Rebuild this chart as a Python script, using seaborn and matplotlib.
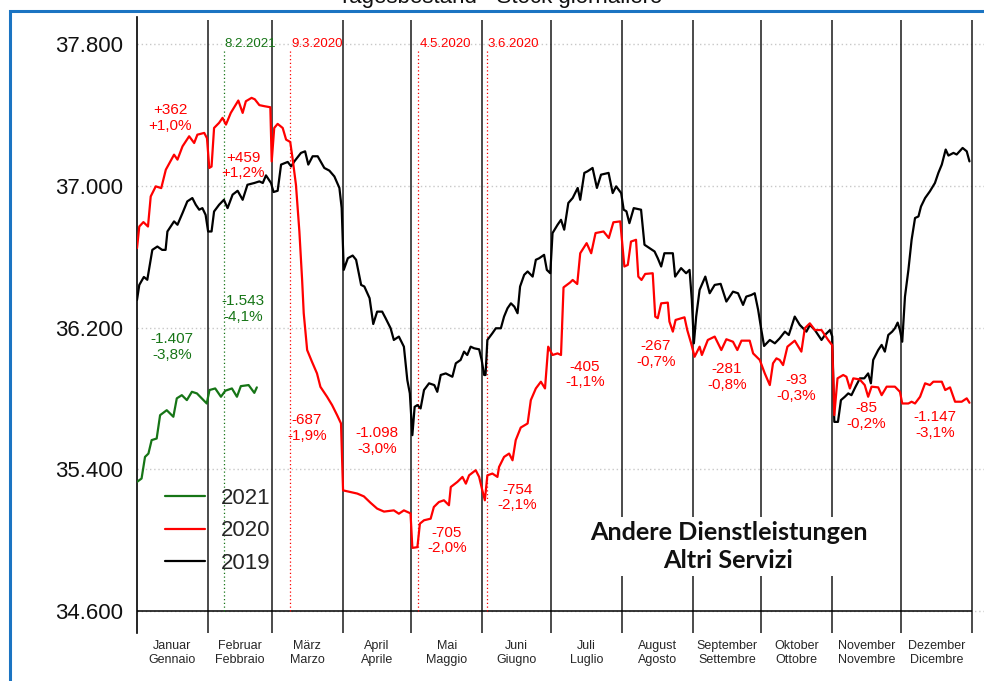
import matplotlib
matplotlib.use("Agg")
import matplotlib.pyplot as plt
from matplotlib.patches import Rectangle
from matplotlib.lines import Line2D
import seaborn as sns
import pandas as pd

# ---------------- data (day of year, 0 = 1 January) ----------------
days_2019 = [0, 1, 3, 4.5, 6.7, 8.9, 11, 12.5, 13.3, 16.2, 17.7, 19.9, 22, 24.2, 25.7, 27.2, 28.6, 30,
             31.1, 32.6, 33.7, 35.9, 38, 39.6, 41.8, 44, 46.2, 48.3, 51.3, 53.5, 55, 56.4, 58.6, 59.7,
             61.5, 63, 65.9, 67.4, 68.8, 71.7, 73.5, 74.9, 76.8, 79, 81.9, 84.1, 86.3, 88.5, 89.5, 90.4,
             92.2, 94.3, 95.8, 98, 99.4, 101.7, 103.3, 105, 107.2, 108.7, 110.9, 112.3, 114.5, 116.7,
             118.2, 119.3, 120.4, 121.4, 122.6, 124, 125.5, 127.7, 130, 131.3, 132.8, 135, 137.9, 139.4,
             141.5, 143, 144.4, 145.9, 147.4, 149.6, 150.7, 151.8, 152.4, 153.2, 155.4, 156.9, 159.1,
             160.5, 162, 163.5, 165, 166.4, 167.5, 169.3, 170.8, 173, 174.4, 175.9, 178, 179.2, 180.7,
             181.7, 183.9, 185.4, 186.8, 188.6, 190.5, 192.7, 193.8, 195.6, 197, 199.2, 201.1, 202.9,
             206.2, 208, 209.5, 211.7, 212.8, 214, 215.3, 217.2, 220.4, 221.9, 224.1, 226.3, 227.7,
             229.2, 230.6, 234.3, 235.3, 237.9, 240.1, 241.6, 242.6, 243.5, 244.5, 246, 248.5, 250.4,
             252.6, 255.2, 257.7, 260.6, 262.8, 265, 266.4, 268.6, 270.1, 271.6, 273, 274.2, 276.7,
             278.9, 281, 283.3, 285, 287.6, 289.8, 292.7, 294.2, 296.4, 299.3, 300.8, 303, 304, 304.9,
             306.5, 307.8, 309.5, 311, 312.4, 314.2, 316.1, 318, 319.7, 320.9, 321.9, 324.1, 325.6, 327,
             328.5, 330.2, 331.4, 332.6, 333.6, 334.6, 335.8, 337.3, 338.7, 340.2, 341.7, 342.8, 344.6,
             346.7, 348.9, 350.4, 351.9, 353.6, 354.8, 357, 358.4, 361, 362.8, 364]
stock_2019 = [36356, 36441, 36486, 36470, 36639, 36658, 36639, 36639, 36743, 36800, 36781, 36847, 36913,
              36932, 36894, 36866, 36875, 36837, 36743, 36743, 36856, 36894, 36922, 36875, 36951, 36973,
              36922, 37007, 37017, 37026, 37017, 37060, 37017, 36966, 36973, 37121, 37136, 37111, 37139,
              37187, 37196, 37121, 37168, 37168, 37102, 37087, 37054, 36989, 36875, 36526, 36592, 36607,
              36583, 36441, 36432, 36366, 36220, 36290, 36290, 36253, 36196, 36130, 36149, 36092, 35903,
              35828, 35592, 35752, 35762, 35743, 35847, 35885, 35875, 35837, 35932, 35941, 35922, 35998,
              36017, 36064, 36045, 36092, 36083, 36077, 36017, 35932, 35932, 36130, 36168, 36196, 36196,
              36262, 36309, 36337, 36318, 36281, 36432, 36498, 36517, 36488, 36583, 36592, 36611, 36526,
              36507, 36734, 36781, 36809, 36753, 36904, 36932, 36989, 36922, 37074, 37083, 37102, 36989,
              37064, 37074, 36960, 36998, 36960, 36866, 36857, 36790, 36875, 36866, 36668, 36649, 36630,
              36592, 36545, 36620, 36620, 36488, 36536, 36507, 36526, 36356, 36111, 36262, 36413, 36488,
              36394, 36441, 36447, 36347, 36403, 36394, 36328, 36375, 36384, 36394, 36300, 36186, 36096,
              36130, 36111, 36139, 36177, 36158, 36262, 36215, 36177, 36215, 36186, 36130, 36158, 36186,
              36150, 35667, 35667, 35790, 35809, 35828, 35818, 35866, 35913, 35913, 35941, 35885, 36017,
              36073, 36102, 36064, 36158, 36177, 36196, 36228, 36186, 36120, 36375, 36526, 36696, 36819,
              36828, 36884, 36932, 36970, 37017, 37074, 37121, 37206, 37172, 37187, 37178, 37215, 37196,
              37139]

days_2020 = [0, 1, 2.8, 4.8, 6, 8.2, 10.6, 12.6, 16.2, 17.7, 19.9, 22.8, 25, 26.4, 29.4, 30.6, 31.6,
             32.6, 33.7, 35.9, 37.4, 38.9, 41, 42.8, 44.3, 46.2, 47.6, 50.1, 51.5, 53.5, 55.7, 58.3,
             58.9, 60, 61.5, 63.7, 65.2, 67, 68, 69.5, 71, 72.2, 72.9, 74.4, 76.5, 78.7, 80.2, 83.1,
             85.3, 87.5, 89.2, 90.1, 93.3, 96.3, 99.2, 102.1, 105, 108, 112.3, 114.5, 116.7, 119.6,
             120.4, 122.6, 123.7, 125.5, 128.4, 129.8, 132, 134.2, 136.4, 137.2, 140.1, 142.3, 143.8,
             145.2, 148.1, 149.6, 151, 152.1, 153.2, 155.4, 157.6, 158.3, 160.5, 162.7, 164.2, 165.6,
             167.8, 170.8, 172.2, 174.4, 176.6, 178.4, 179.8, 181.7, 183.9, 185.4, 186.5, 189.4, 190.5,
             192.5, 193.8, 196.6, 198.6, 200.5, 204, 206.3, 208.3, 211.3, 213.1, 214.6, 216, 218.2,
             219.2, 220.6, 222.2, 225.5, 226.6, 227.7, 229.2, 232.1, 232.8, 234.3, 235.5, 239.4, 240.6,
             242.3, 243.8, 246, 247, 249.6, 252.6, 255.5, 257.7, 260.6, 262.5, 264.3, 267.9, 269.4,
             272.3, 274.5, 276.7, 278.1, 279.6, 281, 282.5, 284.4, 287.6, 290.5, 292, 294.2, 296.4,
             299.3, 302.2, 304, 304.9, 306.3, 308.8, 310.2, 311.7, 313.2, 316, 318.2, 319.7, 321.2,
             324.1, 325.6, 327.8, 331.4, 333.6, 334.6, 337.3, 338.7, 340.2, 342.4, 344.6, 346.7, 348.2,
             351.9, 353.4, 355.5, 357.7, 360.6, 362.8, 364]
stock_2020 = [36649, 36771, 36796, 36771, 36941, 36998, 36988, 37092, 37177, 37149, 37224, 37281, 37243,
              37290, 37300, 37270, 37102, 37110, 37328, 37357, 37385, 37347, 37413, 37451, 37483, 37413,
              37479, 37498, 37490, 37457, 37451, 37445, 37139, 37328, 37351, 37328, 37262, 37249, 37158,
              37007, 36743, 36469, 36281, 36073, 36007, 35941, 35865, 35809, 35762, 35705, 35658, 35280,
              35271, 35262, 35246, 35210, 35177, 35160, 35167, 35148, 35167, 35150, 34955, 34959, 35092,
              35111, 35120, 35186, 35214, 35224, 35196, 35299, 35328, 35356, 35318, 35365, 35394, 35356,
              35280, 35224, 35365, 35375, 35356, 35412, 35469, 35488, 35450, 35564, 35635, 35658, 35790,
              35856, 35894, 35856, 36092, 36045, 36054, 36045, 36427, 36455, 36469, 36446, 36620, 36677,
              36620, 36734, 36743, 36706, 36795, 36800, 36545, 36554, 36686, 36696, 36488, 36469, 36503,
              36507, 36262, 36253, 36337, 36341, 36234, 36177, 36243, 36258, 36186, 36111, 36035, 36092,
              36045, 36130, 36149, 36073, 36134, 36120, 36073, 36126, 36126, 36054, 36017, 35941, 35875,
              35998, 36026, 36017, 35988, 36092, 36126, 36064, 36196, 36224, 36186, 36186, 36130, 36100,
              35705, 35913, 35932, 35922, 35856, 35913, 35907, 35875, 35809, 35866, 35862, 35818, 35866,
              35866, 35837, 35771, 35771, 35781, 35771, 35809, 35885, 35875, 35894, 35894, 35847, 35862,
              35781, 35781, 35800, 35775]

days_2021 = [0, 2, 3.5, 5, 6.4, 8.6, 10.1, 13, 15.9, 17.4, 19.6, 21.8, 24, 26.2, 28.3, 30.5, 31.7,
             34.2, 36.7, 38.6, 41.5, 43.7, 45.4, 48.8, 51.3, 52.4]
stock_2021 = [35328, 35347, 35469, 35488, 35564, 35573, 35705, 35733, 35696, 35800, 35818, 35790, 35837,
              35828, 35800, 35771, 35847, 35856, 35809, 35843, 35856, 35809, 35869, 35875, 35831, 35862]

years = ["2021", "2020", "2019"]
colors = {"2021": "#167516", "2020": "#ff0000", "2019": "#000000"}

month_starts = [0, 31, 59, 90, 120, 151, 181, 212, 243, 273, 304, 334, 365]
month_labels = ["Januar\nGennaio", "Februar\nFebbraio", "März\nMarzo", "April\nAprile", "Mai\nMaggio",
                "Juni\nGiugno", "Juli\nLuglio", "August\nAgosto", "September\nSettembre",
                "Oktober\nOttobre", "November\nNovembre", "Dezember\nDicembre"]

y_ticks = [34600, 35400, 36200, 37000, 37800]
y_tick_labels = ["34.600", "35.400", "36.200", "37.000", "37.800"]

event_days = [38, 67, 123, 153]
event_labels = ["8.2.2021", "9.3.2020", "4.5.2020", "3.6.2020"]
event_colors = ["#167516", "#ff0000", "#ff0000", "#ff0000"]

# monthly difference annotations: (day, value, text, colour)
note_days = [14.6, 46.5, 15.3, 46.3, 74.3, 104.9, 135.5, 166.2, 195.9, 226.9, 258.0, 288.1, 318.8, 348.9]
note_vals = [37385, 37115, 36090, 36305, 35632, 35560, 34996, 35240, 35935, 36050, 35920, 35860, 35700, 35650]
note_texts = ["+362\n+1,0%", "+459\n+1,2%", "-1.407\n-3,8%", "-1.543\n-4,1%", "-687\n-1,9%",
              "-1.098\n-3,0%", "-705\n-2,0%", "-754\n-2,1%", "-405\n-1,1%", "-267\n-0,7%",
              "-281\n-0,8%", "-93\n-0,3%", "-85\n-0,2%", "-1.147\n-3,1%"]
note_colors = ["#ff0000", "#ff0000", "#167516", "#167516"] + ["#ff0000"] * 10

# ---------------- figure ----------------
sns.set_style("white")
plt.rcParams["font.family"] = ["Liberation Sans", "DejaVu Sans"]

fig = plt.figure(figsize=(9.84, 6.81), dpi=100)
ax = fig.add_axes([137 / 984, 1 - 633 / 681, 1 - 137 / 984, (633 - 17) / 681])

df = pd.concat([
    pd.DataFrame({"day": days_2019, "stock": stock_2019, "year": "2019"}),
    pd.DataFrame({"day": days_2020, "stock": stock_2020, "year": "2020"}),
    pd.DataFrame({"day": days_2021, "stock": stock_2021, "year": "2021"}),
])
for yr in ["2019", "2020", "2021"]:
    sns.lineplot(data=df[df["year"] == yr], x="day", y="stock", color=colors[yr], lw=1.6,
                 estimator=None, sort=False, ax=ax, zorder=4, legend=False)

ymin, ymax = 34474, 37955
ax.set_xlim(0, (984 - 137) / 2.287)
ax.set_ylim(ymin, ymax)

# grid, axis line, month separators
ax.set_yticks(y_ticks)
ax.set_yticklabels(y_tick_labels, fontsize=16)
ax.yaxis.grid(True, linestyle=(0, (1, 2)), color="#c8c8c8", lw=1)
ax.xaxis.grid(False)
ax.hlines(34600, 0, 365, color="black", lw=1.1, zorder=3)
ax.vlines(month_starts[1:], ymin, 37938, color="#1a1a1a", lw=1.1, zorder=2)

mid = [(a + b) / 2 for a, b in zip(month_starts[:-1], month_starts[1:])]
ax.set_xticks(mid)
ax.set_xticklabels(month_labels, fontsize=9, linespacing=1.25)
ax.tick_params(axis="x", length=0, pad=5)
ax.tick_params(axis="y", length=6, width=1, color="#333333", pad=4, labelcolor="#111111")
ax.set_xlabel("")
ax.set_ylabel("")
for s in ["top", "right", "bottom"]:
    ax.spines[s].set_visible(False)
ax.spines["left"].set_color("black")
ax.spines["left"].set_linewidth(1.2)

# event lines
for d, lab, c in zip(event_days, event_labels, event_colors):
    ax.vlines(d, 34600, 37765, color=c, lw=0.9, linestyles=(0, (1, 2)), zorder=3)
    ax.text(d + 0.4, 37800, lab, color=c, fontsize=9.5, ha="left", va="center", zorder=5)

# annotations
for d, v, t, c in zip(note_days, note_vals, note_texts, note_colors):
    ax.text(d, v, t, color=c, fontsize=11, ha="center", va="center", linespacing=1.15, zorder=5)

# sector title
ax.text(258.6, 34963, "Andere Dienstleistungen\nAltri Servizi", fontsize=18.2, fontweight="bold",
        family=["Lato", "DejaVu Sans"], ha="center", va="center", linespacing=1.22, zorder=6,
        color="#111111", bbox=dict(facecolor="white", edgecolor="none", pad=3))

# legend
handles = [Line2D([0], [0], color=colors[y], lw=1.6) for y in years]
ax.legend(handles, years, loc="upper left", bbox_to_anchor=(0.022, 0.25), frameon=False,
          fontsize=16, handlelength=1.8, handletextpad=0.75, labelspacing=0.52, borderaxespad=0)

# top title (cut off at the top edge) and blue frame
fig.text(500 / 984, 1 - 3 / 681, "Tagesbestand - Stock giornaliero", ha="center", va="baseline",
         fontsize=16, color="#111111")
fig.add_artist(Rectangle((10 / 984, -0.05), 1.2, 1 - 11 / 681 + 0.05, transform=fig.transFigure,
                         fill=False, edgecolor="#1b74c2", lw=2.2, clip_on=False))

fig.savefig("out.png", dpi=100)
